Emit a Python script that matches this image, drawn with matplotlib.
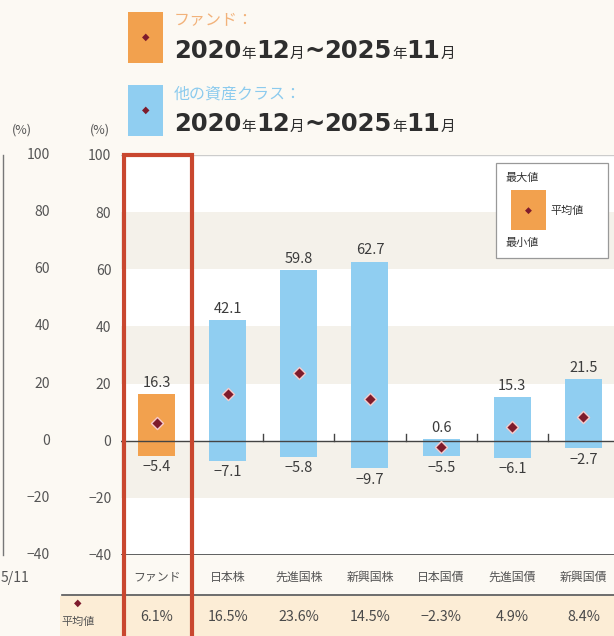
import matplotlib
matplotlib.use("Agg")
import matplotlib.pyplot as plt
from matplotlib.patches import Rectangle
from matplotlib.transforms import blended_transform_factory
import numpy as np

plt.rcParams['font.family'] = ['Noto Sans CJK JP', 'DejaVu Sans']

# data
categories = ["ファンド", "日本株", "先進国株", "新興国株", "日本国債", "先進国債", "新興国債"]
max_vals = [16.3, 42.1, 59.8, 62.7, 0.6, 15.3, 21.5]
min_vals = [-5.4, -7.1, -5.8, -9.7, -5.5, -6.1, -2.7]
mean_vals = [6.1, 16.5, 23.6, 14.5, -2.3, 4.9, 8.4]
yticks = [100, 80, 60, 40, 20, 0, -20, -40]
period = [("2020", False), ("年", True), ("12", False), ("月", True), ("~", False),
          ("2025", False), ("年", True), ("11", False), ("月", True)]

ORANGE = "#F2A14E"
BLUE = "#90CEF1"
DIAMOND = "#7E1B2C"
RED = "#C9472F"
BG = "#FCF9F3"
BAND = "#F4F1EA"
TXT = "#3C3C3C"

W, H = 614, 636
fig = plt.figure(figsize=(W / 100, H / 100), dpi=100, facecolor=BG)


def fx(px):
    return px / W


def fy(py):
    return 1 - py / H


# main axes: y=100 at 155px, y=-40 at 555px
ax = fig.add_axes([fx(121), fy(555), fx(614) - fx(121), fy(155) - fy(555)])
ax.set_facecolor("white")
ax.set_ylim(-40, 100)
ax.set_xlim(-0.5, 6.43)

for lo, hi in [(60, 80), (20, 40), (-20, 0)]:
    ax.axhspan(lo, hi, color=BAND, lw=0, zorder=0)

for s in ax.spines.values():
    s.set_visible(False)
ax.axhline(100, color="#CCCCCC", lw=1.0, zorder=1)
ax.axhline(-40, color="#444444", lw=1.2, zorder=3)
ax.axhline(0, color="#444444", lw=1.0, zorder=3)

x = np.arange(len(categories))
for i in range(len(categories)):
    c = ORANGE if i == 0 else BLUE
    ax.bar(x[i], max_vals[i] - min_vals[i], bottom=min_vals[i], width=0.52,
           color=c, zorder=2)
ax.scatter(x, mean_vals, marker="D", s=38, color=DIAMOND,
           edgecolors="#F6C9C9", linewidths=1.0, zorder=4)

# small boundary ticks on the zero line
for b in x[:-1] + 0.5:
    ax.plot([b, b], [0, 2.2], color="#444444", lw=1.0, zorder=3)

for i in range(len(categories)):
    ax.annotate(f"{max_vals[i]:.1f}", (x[i], max_vals[i]), xytext=(0, 3),
                textcoords="offset points", ha="center", va="bottom",
                fontsize=10.5, color=TXT, zorder=5)
    ax.annotate(f"\u2212{abs(min_vals[i]):.1f}", (x[i], min_vals[i]), xytext=(0, -3),
                textcoords="offset points", ha="center", va="top",
                fontsize=10.5, color=TXT, zorder=5)

ax.set_xticks([])
ax.set_yticks(yticks)
ax.set_yticklabels([str(v).replace("-", "\u2212") for v in yticks],
                   fontsize=10, color="#555555")
ax.tick_params(axis="y", length=0, pad=7)

# category + mean rows
xt = ax.get_xaxis_transform()
for i, c in enumerate(categories):
    ax.text(x[i], -0.055, c, transform=xt, ha="center", va="center",
            fontsize=8.6, color="#555555", clip_on=False)
    m = f"{mean_vals[i]:.1f}%".replace("-", "\u2212")
    ax.text(x[i], -0.155, m, transform=xt, ha="center", va="center",
            fontsize=10.3, color="#4A4A4A", clip_on=False, zorder=6)

fig.patches.append(Rectangle((fx(60), 0), 1 - fx(60), fy(596), transform=fig.transFigure,
                             facecolor="#FCEDD6", edgecolor="none", zorder=-5))
fig.lines.append(plt.Line2D([fx(62), 1], [fy(595), fy(595)], transform=fig.transFigure,
                            color="#555555", lw=1.2))
fig.text(fx(78), fy(603), "◆", ha="center", va="center", fontsize=7, color=DIAMOND,
         family=["DejaVu Sans"])
fig.text(fx(78), fy(622), "平均値", ha="center", va="center", fontsize=8, color="#555555")

# red frame around the fund column
fig.patches.append(Rectangle((fx(124), fy(645)), fx(192) - fx(124), fy(155) - fy(645),
                             transform=fig.transFigure, fill=False, edgecolor=RED,
                             lw=3, zorder=10))

# left partial chart (cropped)
bt = blended_transform_factory(fig.transFigure, ax.transData)
fig.lines.append(plt.Line2D([fx(3), fx(3)], [fy(555), fy(155)], transform=fig.transFigure,
                            color="#777777", lw=1.0))
for v in yticks:
    fig.text(fx(50), v, str(v).replace("-", "\u2212"), transform=bt, ha="right",
             va="center", fontsize=10, color="#555555")
fig.text(fx(1), fy(578), "5/11", ha="left", va="center", fontsize=10, color="#555555")
fig.text(fx(22), fy(130), "(%)", ha="center", va="center", fontsize=9, color="#555555")
fig.text(fx(100), fy(130), "(%)", ha="center", va="center", fontsize=9, color="#555555")

# legend box (top right)
fig.patches.append(Rectangle((fx(496), fy(258)), fx(608) - fx(496), fy(163) - fy(258),
                             transform=fig.transFigure, facecolor="white",
                             edgecolor="#999999", lw=0.9, zorder=7))
fig.patches.append(Rectangle((fx(511), fy(230)), fx(546) - fx(511), fy(190) - fy(230),
                             transform=fig.transFigure, facecolor=ORANGE,
                             edgecolor="none", zorder=8))
fig.text(fx(528), fy(210), "◆", ha="center", va="center", fontsize=6.5, color=DIAMOND,
         family=["DejaVu Sans"], zorder=9)
fig.text(fx(505), fy(178), "最大値", ha="left", va="center", fontsize=8, color="#333333", zorder=9)
fig.text(fx(550), fy(211), "平均値", ha="left", va="center", fontsize=8, color="#333333", zorder=9)
fig.text(fx(505), fy(243), "最小値", ha="left", va="center", fontsize=8, color="#333333", zorder=9)

# top legend
renderer = fig.canvas.get_renderer()


def period_text(x0, ybase):
    cur = x0
    for piece, small in period:
        if small:
            t = fig.text(fx(cur), fy(ybase), piece, ha="left", va="baseline",
                         fontsize=10.5, color="#2E2E2E")
        else:
            t = fig.text(fx(cur), fy(ybase), piece, ha="left", va="baseline",
                         fontsize=17.5, fontweight="bold", color="#2E2E2E",
                         family=["DejaVu Sans"])
        bb = t.get_window_extent(renderer=renderer)
        cur += bb.width


for (y0, col, lab, lcol) in [(12, ORANGE, "ファンド：", "#F2B27A"),
                             (85, BLUE, "他の資産クラス：", "#8CCBEE")]:
    fig.patches.append(Rectangle((fx(128), fy(y0 + 51)), fx(163) - fx(128), fy(y0) - fy(y0 + 51),
                                 transform=fig.transFigure, facecolor=col, edgecolor="none"))
    fig.text(fx(145.5), fy(y0 + 25), "◆", ha="center", va="center", fontsize=7,
             color=DIAMOND, family=["DejaVu Sans"])
    fig.text(fx(174), fy(y0 + 9), lab, ha="left", va="center", fontsize=11.5, color=lcol)
    period_text(174, y0 + 46)

fig.savefig("out.png", dpi=100, facecolor=BG)
